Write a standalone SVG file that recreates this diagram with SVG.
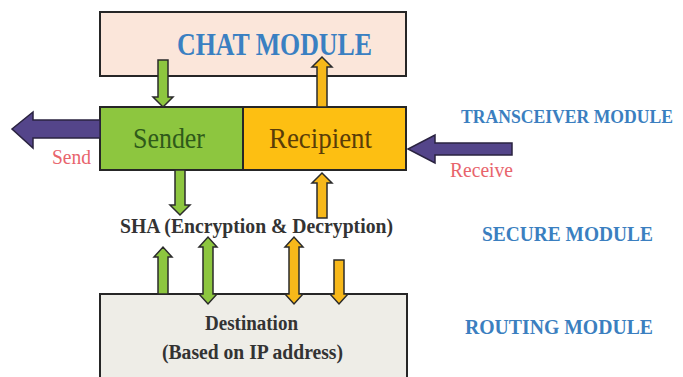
<svg xmlns="http://www.w3.org/2000/svg" width="683" height="377" viewBox="0 0 683 377">
  <style>
    .box { stroke: #262626; stroke-width: 2; }
    .arr { stroke: #2b2b2b; stroke-width: 1.5; stroke-linejoin: miter; }
    .green { fill: #8dc63f; }
    .amber { fill: #f7b81a; }
    .purple { fill: #54458a; stroke: #2a2340; stroke-width: 1.5; }
    text { font-family: 'Liberation Serif', 'DejaVu Serif', serif; }
    .layer { font-weight: bold; fill: #3b7fc0; font-size: 20px; }
    .note { fill: #e8646c; font-size: 20px; }
    .dark { fill: #333333; font-weight: bold; font-size: 20px; }
  </style>

  <rect width="683" height="377" fill="#ffffff"/>

  <!-- Chat module -->
  <g id="chat-module">
    <rect class="box" x="100" y="12" width="306" height="64" fill="#fbe6da"/>
    <text x="177" y="55" font-size="31" font-weight="bold" fill="#3a80c2" textLength="195" lengthAdjust="spacingAndGlyphs">CHAT MODULE</text>
  </g>

  <!-- Transceiver: sender / recipient -->
  <g id="sender">
    <rect class="box" x="100" y="107" width="143" height="63" fill="#8dc63f"/>
    <text x="133" y="148" font-size="30" fill="#2f5a1a" textLength="72" lengthAdjust="spacingAndGlyphs">Sender</text>
  </g>
  <g id="recipient">
    <rect class="box" x="243" y="107" width="163" height="63" fill="#fdbf12"/>
    <text x="269" y="148" font-size="30" fill="#5a3d08" textLength="103" lengthAdjust="spacingAndGlyphs">Recipient</text>
  </g>

  <!-- Secure layer label -->
  <g id="sha">
    <text class="dark" x="120" y="233" textLength="273" lengthAdjust="spacingAndGlyphs">SHA (Encryption &amp; Decryption)</text>
  </g>

  <!-- Routing / destination -->
  <g id="destination">
    <rect class="box" x="100" y="294" width="307" height="90" fill="#eeede7"/>
    <text class="dark" x="205" y="330" textLength="93" lengthAdjust="spacingAndGlyphs">Destination</text>
    <text class="dark" x="162" y="359" textLength="181" lengthAdjust="spacingAndGlyphs">(Based on IP address)</text>
  </g>

  <!-- Layer names -->
  <g id="layer-labels" class="layer">
    <text x="461" y="123" font-size="18" textLength="212" lengthAdjust="spacingAndGlyphs">TRANSCEIVER MODULE</text>
    <text x="482" y="241" textLength="171" lengthAdjust="spacingAndGlyphs">SECURE MODULE</text>
    <text x="465" y="334" textLength="188" lengthAdjust="spacingAndGlyphs">ROUTING MODULE</text>
  </g>

  <!-- Connectors -->
  <g id="connectors">
    <!-- chat -> sender -->
    <path class="arr green" d="M158,60 H168 V97 H173 L163,107 L153,97 H158 Z"/>
    <!-- recipient -> chat -->
    <path class="arr amber" d="M317,107 H327 V67 H332 L322,57 L312,67 H317 Z"/>
    <!-- sender -> SHA -->
    <path class="arr green" d="M175,170 H185 V205 H190 L180,215 L170,205 H175 Z"/>
    <!-- SHA -> recipient -->
    <path class="arr amber" d="M317,218 H327 V183 H332 L322,173 L312,183 H317 Z"/>
    <!-- destination <-> SHA -->
    <path class="arr green" d="M158,294 H168 V257 H172 L163,247 L154,257 H158 Z"/>
    <path class="arr green" d="M203,247 V294 H199 L208,304 L217,294 H213 V247 H217 L208,237 L199,247 Z"/>
    <path class="arr amber" d="M289,247 V294 H285 L294,304 L303,294 H299 V247 H303 L294,237 L285,247 Z"/>
    <path class="arr amber" d="M334,260 H344 V294 H348 L339,304 L330,294 H334 Z"/>
    <!-- send / receive -->
    <path class="purple" d="M100,120 V138 H33 V148 L12,129 L33,112 V120 Z"/>
    <path class="purple" d="M512,143 V155 H435 V163 L408,149 L435,135 V143 Z"/>
    <text class="note" x="52" y="164" textLength="39" lengthAdjust="spacingAndGlyphs">Send</text>
    <text class="note" x="450" y="177" textLength="63" lengthAdjust="spacingAndGlyphs">Receive</text>
  </g>
</svg>
